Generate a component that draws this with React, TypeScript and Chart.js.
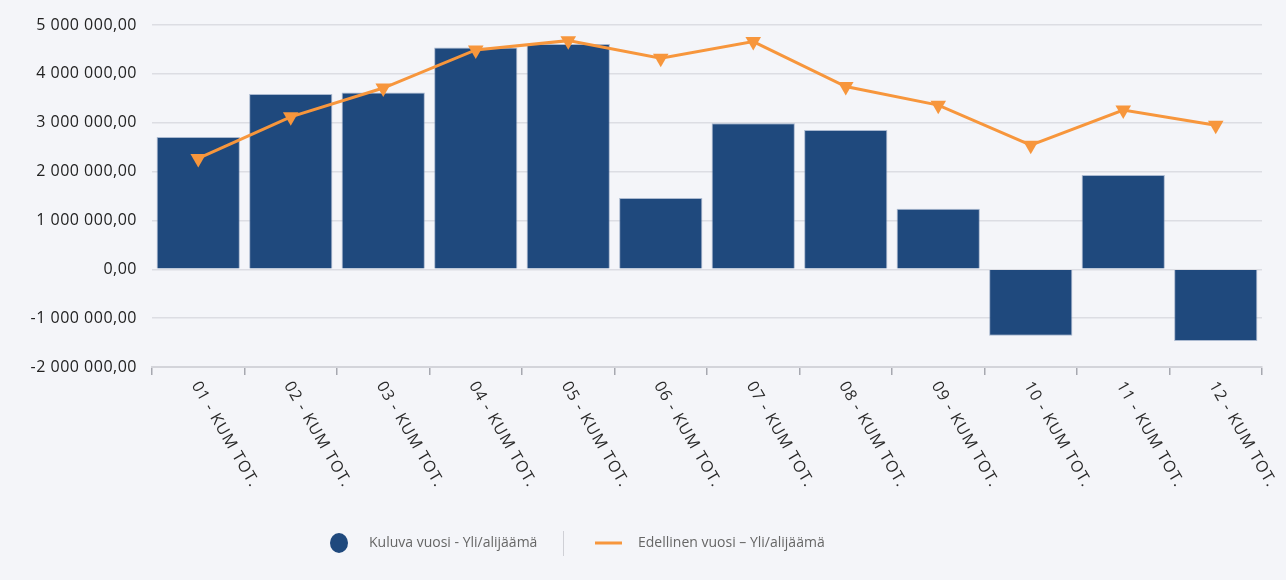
import React, { useEffect, useRef } from "react";
import { Chart, registerables } from "chart.js";

Chart.register(...registerables);

const categories = [
  "01 - KUM TOT.", "02 - KUM TOT.", "03 - KUM TOT.", "04 - KUM TOT.",
  "05 - KUM TOT.", "06 - KUM TOT.", "07 - KUM TOT.", "08 - KUM TOT.",
  "09 - KUM TOT.", "10 - KUM TOT.", "11 - KUM TOT.", "12 - KUM TOT.",
];
const currentYear = [2710000, 3590000, 3620000, 4540000, 4610000, 1460000, 2990000, 2850000, 1240000, -1360000, 1930000, -1470000];
const previousYear = [2270000, 3120000, 3710000, 4490000, 4680000, 4320000, 4660000, 3740000, 3360000, 2540000, 3260000, 2950000];
const seriesNames = ["Kuluva vuosi - Yli/alijäämä", "Edellinen vuosi – Yli/alijäämä"];
const yMin = -2000000;
const yMax = 5000000;
const yStep = 1000000;

const BAR = "#1F497D";
const LINE = "#F7963C";
const FONT = '"Open Sans", "Noto Sans", sans-serif';

function fmt(v: number): string {
  const neg = v < 0;
  const s = Math.abs(Math.round(v)).toString().replace(/\B(?=(\d{3})+(?!\d))/g, " ");
  return (neg ? "-" : "") + s + ",00";
}

const spacingPlugin = {
  id: "spacing",
  beforeDraw(chart: any) {
    (chart.ctx as any).letterSpacing = "0.5px";
  },
  afterDatasetsDraw(chart: any) {
    (chart.ctx as any).letterSpacing = "0px";
  },
};

const xLabelsPlugin = {
  id: "xLabels",
  afterDraw(chart: any) {
    const ctx = chart.ctx;
    const xs = chart.scales.x;
    const bottom = chart.chartArea.bottom;
    ctx.save();
    ctx.font = `16px ${FONT}`;
    ctx.fillStyle = "#2a2a2a";
    (ctx as any).letterSpacing = "1px";
    ctx.textAlign = "left";
    ctx.textBaseline = "middle";
    categories.forEach((c, i) => {
      const x = xs.getPixelForValue(i);
      ctx.save();
      ctx.translate(x - 3, bottom + 16);
      ctx.rotate((60 * Math.PI) / 180);
      ctx.fillText(c, 0, 0);
      ctx.restore();
    });
    ctx.restore();
  },
};

const legendPlugin = {
  id: "customLegend",
  afterDraw(chart: any) {
    const ctx = chart.ctx;
    const cy = 543;
    ctx.save();
    (ctx as any).letterSpacing = "0px";
    ctx.font = `14px ${FONT}`;
    ctx.textBaseline = "middle";
    ctx.textAlign = "left";
    ctx.fillStyle = BAR;
    ctx.beginPath();
    ctx.ellipse(339, cy, 9, 10, 0, 0, Math.PI * 2);
    ctx.fill();
    ctx.fillStyle = "#666";
    ctx.fillText(seriesNames[0], 369, cy);
    ctx.strokeStyle = "#cfd0d6";
    ctx.lineWidth = 1;
    ctx.beginPath();
    ctx.moveTo(563.5, 531);
    ctx.lineTo(563.5, 556);
    ctx.stroke();
    ctx.strokeStyle = LINE;
    ctx.lineWidth = 3;
    ctx.beginPath();
    ctx.moveTo(595, cy);
    ctx.lineTo(622, cy);
    ctx.stroke();
    ctx.fillStyle = "#666";
    ctx.fillText(seriesNames[1], 638, cy);
    ctx.restore();
  },
};

export default function App() {
  const ref = useRef<HTMLCanvasElement>(null);
  useEffect(() => {
    if (!ref.current) return;
    const chart = new Chart(ref.current, {
      type: "bar",
      data: {
        labels: categories,
        datasets: [
          {
            type: "line",
            label: seriesNames[1],
            data: previousYear,
            borderColor: LINE,
            backgroundColor: LINE,
            borderWidth: 3,
            pointStyle: "triangle",
            rotation: 180,
            pointRadius: 9,
            pointBackgroundColor: LINE,
            pointBorderColor: LINE,
            pointBorderWidth: 0,
            order: 0,
            tension: 0,
          } as any,
          {
            type: "bar",
            label: seriesNames[0],
            data: currentYear,
            backgroundColor: BAR,
            borderColor: "rgba(120,145,180,0.6)",
            borderWidth: 1,
            barPercentage: 0.9,
            categoryPercentage: 1.0,
            order: 1,
          } as any,
        ],
      },
      options: {
        animation: false,
        responsive: false,
        maintainAspectRatio: false,
        layout: { padding: { top: 25, right: 24, left: 0, bottom: 0 } },
        plugins: {
          legend: { display: false },
          tooltip: { enabled: false },
        },
        scales: {
          x: {
            type: "category",
            offset: true,
            ticks: { display: false },
            grid: {
              display: true,
              offset: true,
              drawOnChartArea: false,
              drawTicks: true,
              tickLength: 8,
              color: "#a6a8b0",
              lineWidth: 1.5,
            },
            border: { display: true, color: "#d3d4da", width: 2 },
            afterFit(scale: any) {
              scale.height = 580 - 367;
            },
          },
          y: {
            min: yMin,
            max: yMax,
            ticks: {
              stepSize: yStep,
              padding: 15,
              color: "#222",
              font: { family: FONT, size: 16 },
              callback: (v: any) => fmt(Number(v)),
            },
            grid: {
              color: "#dcdde3",
              lineWidth: 1.5,
              drawTicks: false,
            },
            border: { display: false },
            afterFit(scale: any) {
              scale.width = 152;
            },
          },
        },
      },
      plugins: [spacingPlugin, xLabelsPlugin, legendPlugin],
    });
    return () => chart.destroy();
  }, []);
  return (
    <div style={{ position: "fixed", left: 0, top: 0, width: 1286, height: 580, background: "#f4f5f9" }}>
      <canvas ref={ref} width={1286} height={580} style={{ display: "block", width: 1286, height: 580 }} />
    </div>
  );
}
